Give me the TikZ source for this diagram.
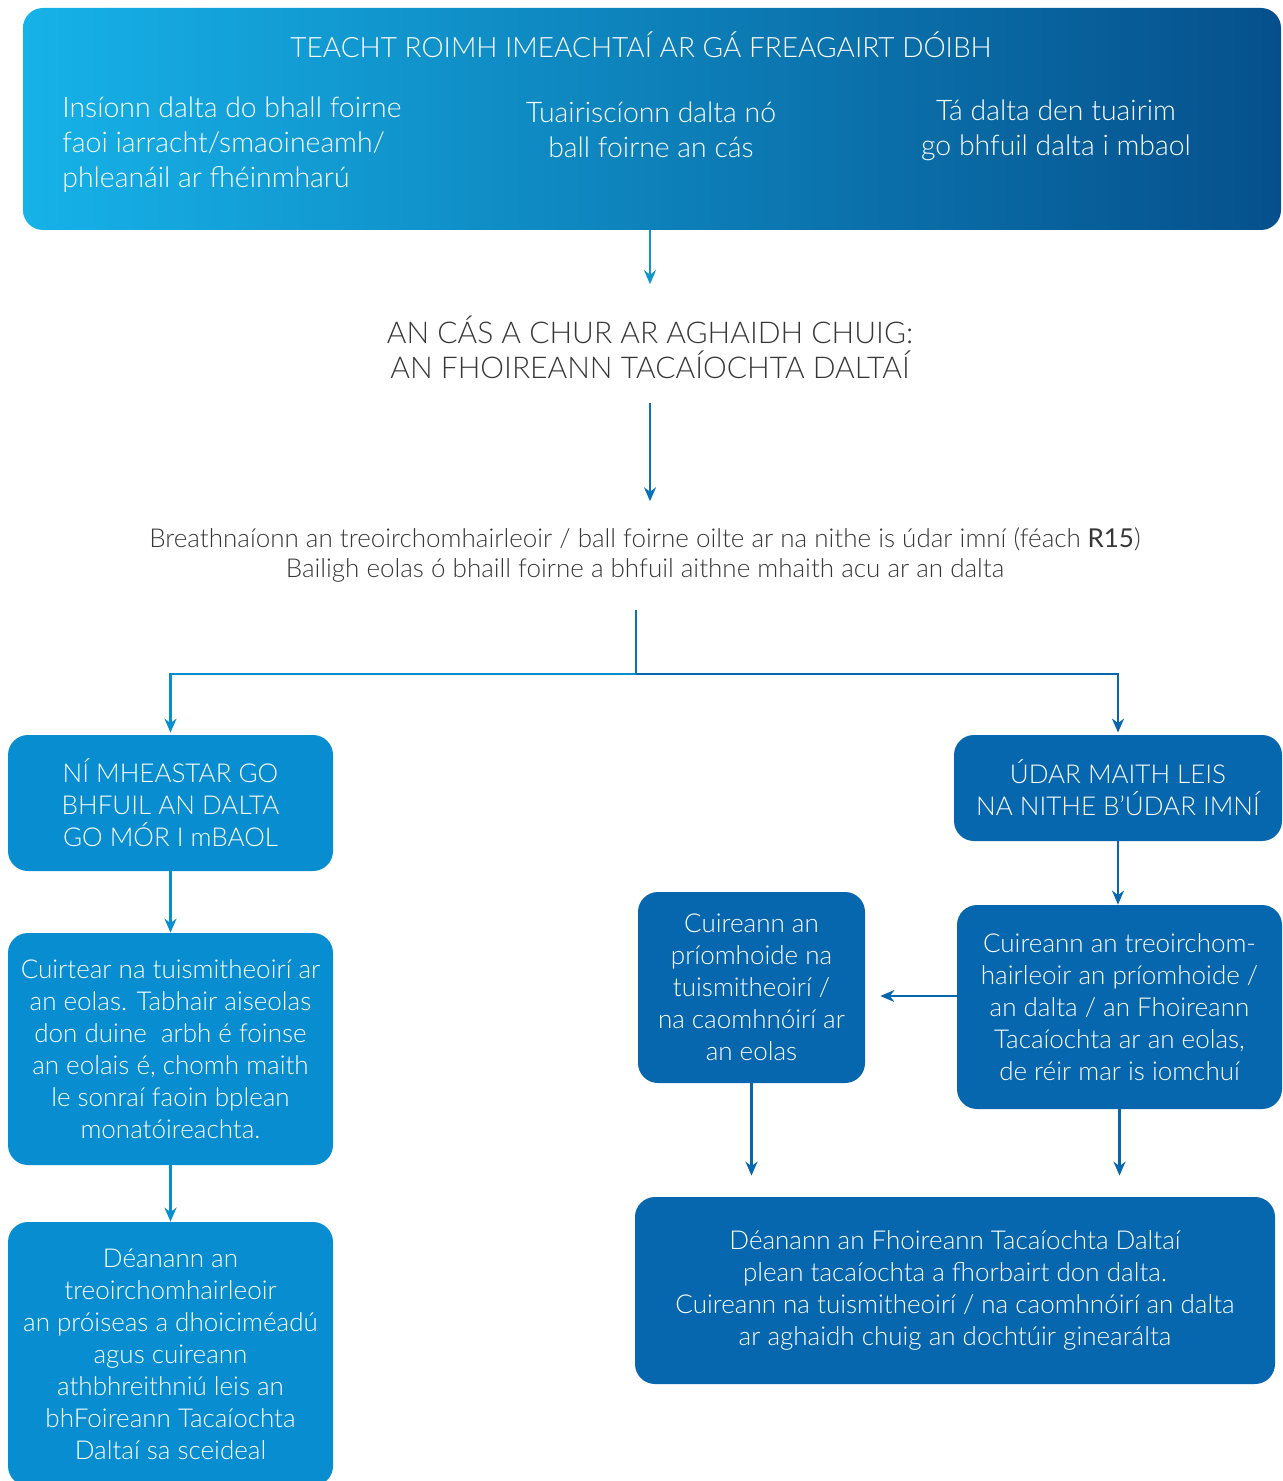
\documentclass[tikz,border=0pt]{standalone}
\usepackage{fontspec}
\setmainfont{Lato Light}[BoldFont=Lato]
\usepackage{tikz}
\usetikzlibrary{arrows.meta, positioning, calc}
\definecolor{lightblue}{RGB}{8,142,208}
\definecolor{darkblue}{RGB}{6,103,174}
\definecolor{topleft}{RGB}{22,178,232}
\definecolor{topright}{RGB}{5,80,140}
\definecolor{midline}{RGB}{12,112,184}
\definecolor{greytext}{RGB}{55,55,55}
\newcommand{\boxfont}{\fontsize{13}{16}\selectfont}
\newcommand{\headfont}{\fontsize{14}{17.5}\selectfont}
\newcommand{\colfont}{\fontsize{14.2}{17.5}\selectfont}
\tikzstyle{topbox} = [rounded corners=10pt, left color=topleft, right color=topright, draw=none, inner sep=0pt]
\tikzstyle{toptext} = [text=white, align=center, inner sep=0pt, font=\colfont]
\tikzstyle{greytxt} = [text=greytext, align=center, inner sep=0pt]
\tikzstyle{lightbox} = [rounded corners=10pt, fill=lightblue, text=white, align=center, inner sep=0pt, font=\boxfont]
\tikzstyle{darkbox} = [rounded corners=10pt, fill=darkblue, text=white, align=center, inner sep=0pt, font=\boxfont]
\tikzstyle{flowarrow} = [line width=1.1pt, -{Stealth[length=7pt, width=6pt]}]
\begin{document}
\begin{tikzpicture}[x=0.5pt, y=-0.5pt]
\useasboundingbox (0,0) rectangle (1282,1481);
\node (top) [topbox, minimum width=629pt, minimum height=111pt] at (652,119) {};
\node (title) [toptext, font=\headfont] at (641,45) {TEACHT ROIMH IMEACHTAÍ AR GÁ FREAGAIRT DÓIBH};
\node (col1) [toptext, anchor=west, align=left] at (62,145) {Insíonn dalta do bhall foirne\\faoi iarracht/smaoineamh/\\phleanáil ar fhéinmharú};
\node (col2) [toptext] at (651,130) {Tuairiscíonn dalta nó\\ball foirne an cás};
\node (col3) [toptext] at (1056,130) {Tá dalta den tuairim\\go bhfuil dalta i mbaol};
\node (case) [greytxt, font=\fontsize{15}{17.5}\selectfont] at (650,347) {AN CÁS A CHUR AR AGHAIDH CHUIG:\\AN FHOIREANN TACAÍOCHTA DALTAÍ};
\node (review) [greytxt, font=\fontsize{13}{15}\selectfont] at (645,555) {Breathnaíonn an treoirchomhairleoir / ball foirne oilte ar na nithe is údar imní (féach \textbf{R15})\\Bailigh eolas ó bhaill foirne a bhfuil aithne mhaith acu ar an dalta};
\coordinate (split) at (636,674);
\node (low1) [lightbox, minimum width=162.5pt, minimum height=68pt] at (170.5,803) {NÍ MHEASTAR GO\\BHFUIL AN DALTA\\GO MÓR I mBAOL};
\node (low2) [lightbox, minimum width=162.5pt, minimum height=116pt] at (170.5,1049) {Cuirtear na tuismitheoirí ar\\an eolas. Tabhair aiseolas\\don duine\ \ arbh é foinse\\an eolais é, chomh maith\\le sonraí faoin bplean\\monatóireachta.};
\node (low3) [lightbox, minimum width=162.5pt, minimum height=132pt] at (170.5,1354) {Déanann an\\treoirchomhairleoir\\an próiseas a dhoiciméadú\\agus cuireann\\athbhreithniú leis an\\bhFoireann Tacaíochta\\Daltaí sa sceideal};
\node (high1) [darkbox, minimum width=164pt, minimum height=53pt] at (1118,788) {ÚDAR MAITH LEIS\\NA NITHE B’ÚDAR IMNÍ};
\node (high2) [darkbox, minimum width=162.5pt, minimum height=102pt] at (1119.5,1007) {Cuireann an treoirchom-\\hairleoir an príomhoide /\\an dalta / an Fhoireann\\Tacaíochta ar an eolas,\\de réir mar is iomchuí};
\node (mid) [darkbox, minimum width=113.5pt, minimum height=95.5pt] at (751.5,987.5) {Cuireann an\\príomhoide na\\tuismitheoirí /\\na caomhnóirí ar\\an eolas};
\node (plan) [darkbox, minimum width=320pt, minimum height=93.5pt] at (955,1290.5) {Déanann an Fhoireann Tacaíochta Daltaí\\plean tacaíochta a fhorbairt don dalta.\\Cuireann na tuismitheoirí / na caomhnóirí an dalta\\ar aghaidh chuig an dochtúir ginearálta};
\draw [flowarrow, color=topleft!70!topright, shorten >=15.5pt] (case.north |- top.south) -- (case.north);
\draw [flowarrow, color=midline, shorten <=12pt, shorten >=13pt] (case.south) -- (case.south |- review.north);
\draw [line width=1.1pt, color=midline, shorten <=13.5pt] (split |- review.south) -- (split);
\draw [flowarrow, color=lightblue, shorten >=1pt] (split) -| (low1.north);
\draw [flowarrow, color=darkblue, shorten >=1pt] (split) -| (high1.north);
\draw [flowarrow, color=lightblue] (low1) -- (low2);
\draw [flowarrow, color=lightblue] (low2) -- (low3);
\draw [flowarrow, color=darkblue] (high1.south) -- (high1.south |- high2.north);
\draw [flowarrow, color=darkblue, shorten >=7.5pt] ([yshift=5.5pt]high2.west) -- ([yshift=5.5pt]high2.west -| mid.east);
\draw [flowarrow, color=darkblue, shorten >=10.5pt] (mid.south) -- (mid.south |- plan.north);
\draw [flowarrow, color=darkblue, shorten >=10.5pt] (high2.south) -- (high2.south |- plan.north);
\end{tikzpicture}
\end{document}
